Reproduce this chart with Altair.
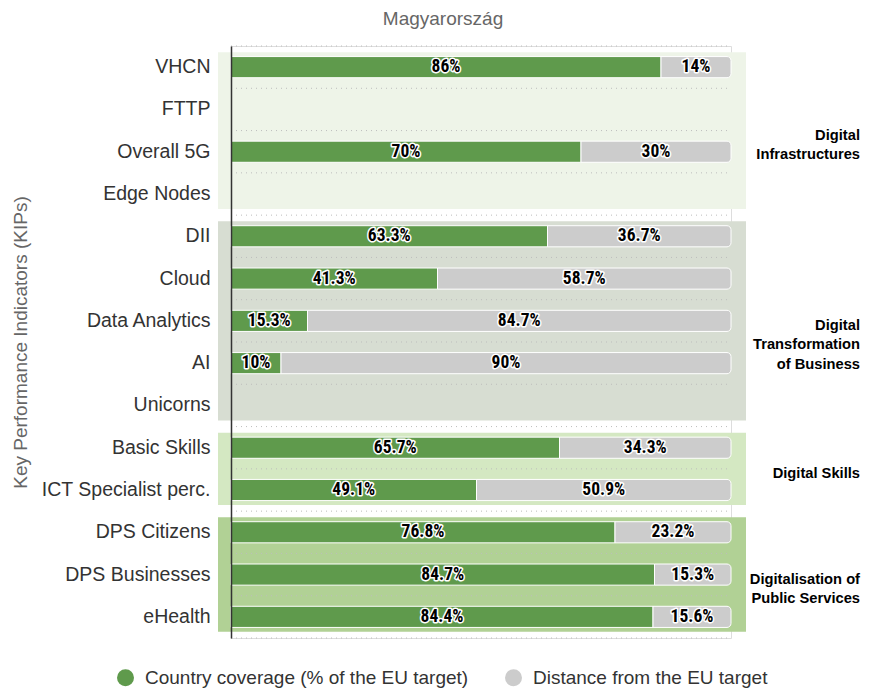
import altair as alt
import pandas as pd

# ---------------- data ----------------
kpis = ["VHCN", "FTTP", "Overall 5G", "Edge Nodes", "DII", "Cloud",
        "Data Analytics", "AI", "Unicorns", "Basic Skills",
        "ICT Specialist perc.", "DPS Citizens", "DPS Businesses", "eHealth"]
coverage = [86, None, 70, None, 63.3, 41.3, 15.3, 10, None,
            65.7, 49.1, 76.8, 84.7, 84.4]

group_labels = [["Digital", "Infrastructures"],
                ["Digital", "Transformation", "of Business"],
                ["Digital Skills"],
                ["Digitalisation of", "Public Services"]]
group_first = [0, 4, 9, 11]   # first KPI index of each group
group_last = [3, 8, 10, 13]   # last KPI index of each group
group_colors = ["#eef4e8", "#d7ddd2", "#d4e8c2", "#b1d195"]

cov_label = "Country coverage (% of the EU target)"
dist_label = "Distance from the EU target"
green = "#5f9a4c"
grey = "#cccccc"

TARGET = 100  # EU target = 100 %

# ---------------- tables ----------------
rows = []
for k, v in zip(kpis, coverage):
    if v is None:
        continue
    d = round(TARGET - v, 1)
    rows.append({"kpi": k, "zero": 0, "cov": v, "target": TARGET,
                 "cov_mid": v / 2, "dist_mid": (v + TARGET) / 2,
                 "cov_txt": f"{v:g}%", "dist_txt": f"{d:g}%",
                 "s_cov": cov_label, "s_dist": dist_label})
bars = pd.DataFrame(rows)

pad = 0.145
groups = pd.DataFrame({
    "label": group_labels,
    "x0": -2.6, "x1": 103,
    "y0": [f + pad for f in group_first],
    "y1": [l + 1 - pad for l in group_last],
    "mid": [(f + l + 1) / 2 for f, l in zip(group_first, group_last)],
    "color": group_colors,
})
bounds = pd.DataFrame({"b": list(range(len(kpis) + 1)), "x0": 0, "x1": TARGET})

W, H = 500, 592
FONT = "Liberation Sans"
NARROW = "Liberation Sans Narrow, Roboto Condensed, Liberation Sans"

xscale = alt.Scale(domain=[0, 100], nice=False)
qy = alt.Scale(domain=[0, len(kpis)], reverse=True, nice=False, zero=False)
band = alt.Scale(domain=kpis, paddingInner=0.5, paddingOuter=0.25)
color_scale = alt.Scale(domain=[cov_label, dist_label], range=[green, grey])

# background group panels
bg = alt.Chart(groups).mark_rect().encode(
    x=alt.X("x0:Q", scale=xscale, axis=None),
    x2="x1:Q",
    y=alt.Y("y0:Q", scale=qy, axis=None),
    y2="y1:Q",
    fill=alt.Fill("color:N", scale=None),
)

# dotted grid lines between rows
grid = alt.Chart(bounds).mark_rule(color="#bdbdbd", strokeDash=[1, 4], strokeWidth=1).encode(
    x=alt.X("x0:Q", scale=xscale, axis=None),
    x2="x1:Q",
    y=alt.Y("b:Q", scale=qy, axis=None),
)

legend = alt.Legend(orient="none", legendX=-115, legendY=622, direction="horizontal",
                    title=None, symbolType="circle", symbolSize=289,
                    symbolStrokeWidth=0, symbolOpacity=1,
                    labelFontSize=19, labelFont=FONT, labelColor="#333",
                    labelLimit=500, labelOffset=10, columnPadding=35)

green_bars = alt.Chart(bars).mark_bar(stroke="white", strokeWidth=1).encode(
    y=alt.Y("kpi:N", scale=band, sort=kpis,
            axis=alt.Axis(title="Key Performance Indicators (KIPs)", ticks=False,
                          labelFontSize=19.5, labelFont=FONT, labelColor="#333",
                          labelPadding=21, domainColor="#333", domainWidth=1.5,
                          grid=False, titleFontSize=19, titleFont=FONT,
                          titleColor="#666", titleFontWeight="normal",
                          titlePadding=10, zindex=1)),
    x=alt.X("zero:Q", scale=xscale, axis=None),
    x2="cov:Q",
    color=alt.Color("s_cov:N", scale=color_scale, legend=legend),
)

grey_bars = alt.Chart(bars).mark_bar(stroke="white", strokeWidth=1,
                                     cornerRadiusTopRight=4,
                                     cornerRadiusBottomRight=4).encode(
    y=alt.Y("kpi:N", scale=band, sort=kpis, axis=None),
    x=alt.X("cov:Q", scale=xscale, axis=None),
    x2="target:Q",
    color=alt.Color("s_dist:N", scale=color_scale, legend=legend),
)

def labels(xfield, tfield, outline):
    props = dict(font=NARROW, fontSize=17.5, fontWeight="bold", align="center",
                 baseline="middle")
    if outline:
        props.update(stroke="white", strokeWidth=3, strokeJoin="round", color="black")
    else:
        props.update(color="black")
    return alt.Chart(bars).mark_text(**props).encode(
        y=alt.Y("kpi:N", scale=band, sort=kpis, axis=None),
        x=alt.X(f"{xfield}:Q", scale=xscale, axis=None),
        text=alt.Text(f"{tfield}:N"),
    )

group_text = alt.Chart(groups).mark_text(
    font=FONT, fontSize=14.7, fontWeight="bold", align="right", baseline="top",
    lineHeight=19.5, dy=-3, color="black"
).encode(
    x=alt.value(W + 129),
    y=alt.Y("mid:Q", scale=qy, axis=None),
    text=alt.Text("label:N"),
)

chart = alt.layer(
    bg, grid, green_bars, grey_bars,
    labels("cov_mid", "cov_txt", True), labels("cov_mid", "cov_txt", False),
    labels("dist_mid", "dist_txt", True), labels("dist_mid", "dist_txt", False),
    group_text,
).resolve_scale(y="independent").properties(
    width=W, height=H,
    title=alt.TitleParams("Magyarország", fontSize=19, font=FONT, color="#666",
                          fontWeight="normal", anchor="middle", dx=-38, offset=17),
    autosize=alt.AutoSizeParams(type="none"),
    padding={"left": 223, "top": 38, "right": 131, "bottom": 51},
).configure_view(stroke=None).configure(font=FONT)

chart.save("out.html", embed_options={"renderer": "svg", "actions": False})
